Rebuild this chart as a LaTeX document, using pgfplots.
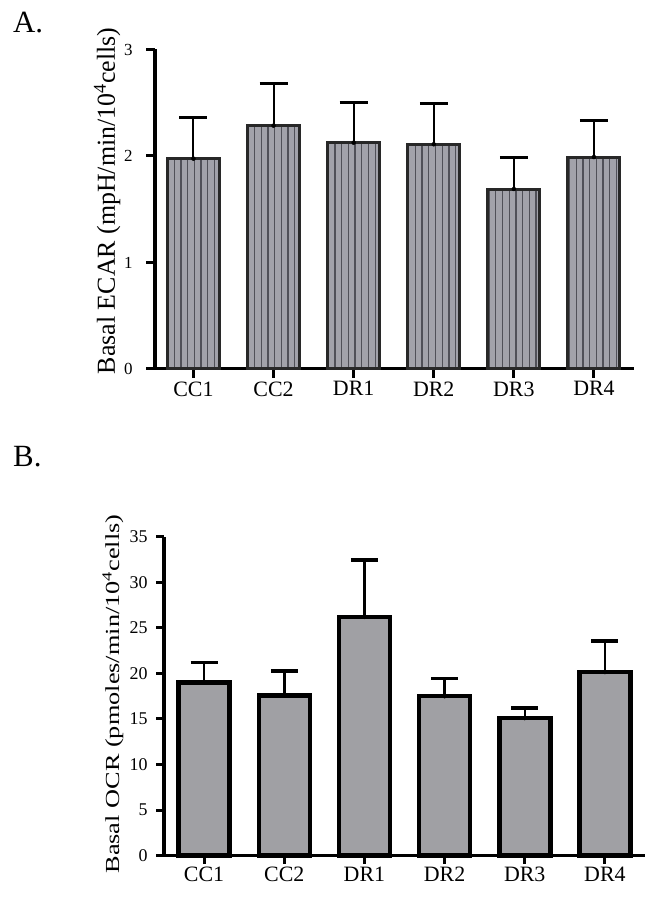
\documentclass[border=0pt]{standalone}
\usepackage{fontspec}
\setmainfont{Liberation Serif}
\usepackage{pgfplots}
\pgfplotsset{compat=1.18}
\usetikzlibrary{patterns.meta}
\definecolor{barA}{RGB}{162,162,170}
\definecolor{stripeA}{RGB}{80,80,88}
\definecolor{outA}{RGB}{40,40,40}
\definecolor{barB}{RGB}{160,160,164}
\begin{document}
\begin{tikzpicture}[x=1bp,y=1bp]
\path[use as bounding box] (0,0) rectangle (658,897);
\coordinate (pA) at (155,528);
\coordinate (pB) at (164,41.3);
\node[font=\fontsize{31}{31}\selectfont, anchor=base west, inner sep=0pt] at (13,864) {A.};
\node[font=\fontsize{31}{31}\selectfont, anchor=base west, inner sep=0pt] at (13,430) {B.};
% Panel A
\begin{axis}[
  at={(pA)}, anchor=south west,
  scale only axis, width=479bp, height=319.5bp,
  xmin=-0.48, xmax=5.5, ymin=0, ymax=3,
  xtick={0,...,5}, xticklabels={CC1,CC2,DR1,DR2,DR3,DR4},
  ytick={0,1,2,3},
  axis lines=left, axis line style={-},
  x axis line style={line width=3bp},
  y axis line style={line width=4bp},
  tick align=outside, major tick length=9bp,
  tick style={black, line width=3bp},
  /pgf/number format/assume math mode=true,
  xticklabel style={font=\fontsize{22}{22}\selectfont},
  yticklabel style={font=\fontsize{17}{17}\selectfont, xshift=-10bp},
  ylabel={Basal ECAR (mpH/min/10\textsuperscript{4}cells)},
  ylabel style={font=\fontsize{26}{26}\selectfont, at={(axis description cs:-0.100,0.526)}, anchor=center},
  clip=false,
]
\addplot[ybar, bar width=52bp, fill=barA, draw=outA, line width=3bp,
  postaction={pattern={Lines[angle=90,distance=6.7bp,line width=1.3bp]}, pattern color=stripeA}]
  coordinates {(0,1.975) (1,2.285) (2,2.125) (3,2.11) (4,1.69) (5,1.99)};
\addplot[only marks, mark=none, error bars/.cd, y dir=plus, y explicit,
  error bar style={line width=2bp, black},
  error mark options={rotate=90, line width=3bp, mark size=14bp, black}]
  coordinates {(0,1.975) +- (0,0.385) (1,2.285) +- (0,0.395) (2,2.125) +- (0,0.375)
               (3,2.11) +- (0,0.38) (4,1.69) +- (0,0.30) (5,1.99) +- (0,0.34)};
\end{axis}
% Panel B
\begin{axis}[
  at={(pB)}, anchor=south west,
  scale only axis, width=481bp, height=319bp,
  xmin=-0.5, xmax=5.5, ymin=0, ymax=35,
  xtick={0,...,5}, xticklabels={CC1,CC2,DR1,DR2,DR3,DR4},
  ytick={0,5,...,35},
  axis lines=left, axis line style={-},
  x axis line style={line width=3bp},
  y axis line style={line width=4bp},
  tick align=outside, major tick length=8bp,
  tick style={black, line width=3bp},
  /pgf/number format/assume math mode=true,
  xticklabel style={font=\fontsize{22}{22}\selectfont},
  yticklabel style={font=\fontsize{18}{18}\selectfont, xshift=-5bp},
  ylabel={\scalebox{1.32}[1]{Basal OCR (pmoles/min/10\textsuperscript{4}cells)}},
  ylabel style={font=\fontsize{20}{20}\selectfont, at={(axis description cs:-0.106,0.507)}, anchor=center},
  clip=false,
]
\addplot[ybar, bar width=51bp, fill=barB, draw=black, line width=4.5bp]
  coordinates {(0,19.0) (1,17.55) (2,26.2) (3,17.5) (4,15.1) (5,20.15)};
\addplot[only marks, mark=none, error bars/.cd, y dir=plus, y explicit,
  error bar style={line width=2.5bp, black},
  error mark options={rotate=90, line width=3.5bp, mark size=13.5bp, black}]
  coordinates {(0,19.0) +- (0,2.2) (1,17.55) +- (0,2.7) (2,26.2) +- (0,6.25)
               (3,17.5) +- (0,1.95) (4,15.1) +- (0,1.1) (5,20.15) +- (0,3.4)};
\end{axis}
\end{tikzpicture}
\end{document}
